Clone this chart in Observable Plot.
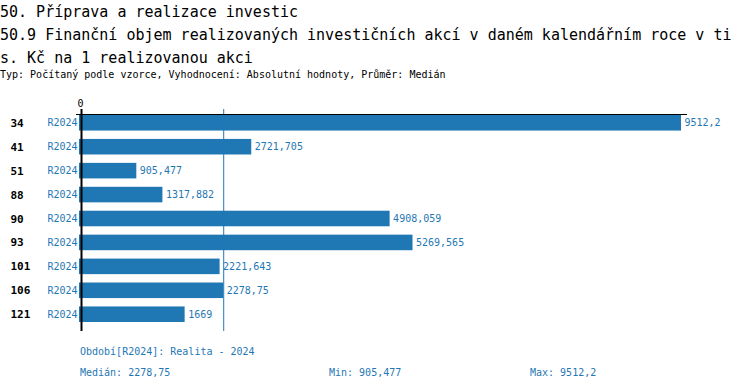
<!DOCTYPE html>
<html>
<head>
<meta charset="utf-8">
<script src="https://cdn.jsdelivr.net/npm/d3@7"></script>
<script src="https://cdn.jsdelivr.net/npm/@observablehq/plot@0.6"></script>
<style>
  html, body { margin: 0; padding: 0; background: #fff; }
  #wrap { position: relative; width: 750px; height: 390px; overflow: hidden; font-family: "DejaVu Sans Mono", "Liberation Mono", monospace; }
  .t { position: absolute; left: 0; white-space: pre; color: #000; }
  .big { font-size: 15px; height: 23px; line-height: 23px; }
  .small { font-size: 10px; height: 14px; line-height: 14px; }
  .foot { position: absolute; white-space: pre; font-size: 10px; line-height: 14px; color: #1f77b4; }
  #chart { position: absolute; left: 0; top: 95px; }
</style>
</head>
<body>
<div id="wrap">
  <div class="t big" style="top:1px">50. Příprava a realizace investic</div>
  <div class="t big" style="top:24px">50.9 Finanční objem realizovaných investičních akcí v daném kalendářním roce v ti</div>
  <div class="t big" style="top:47px">s. Kč na 1 realizovanou akci</div>
  <div class="t small" style="top:68px">Typ: Počítaný podle vzorce, Vyhodnocení: Absolutní hodnoty, Průměr: Medián</div>
  <div id="chart"></div>
  <div class="foot" id="f1" style="left:80px; top:345px"></div>
  <div class="foot" id="f2" style="left:80px; top:366px"></div>
  <div class="foot" id="f3" style="left:329px; top:366px"></div>
  <div class="foot" id="f4" style="left:530px; top:366px"></div>
</div>
<script>
const categories = ["34", "41", "51", "88", "90", "93", "101", "106", "121"];
const values = [9512.2, 2721.705, 905.477, 1317.882, 4908.059, 5269.565, 2221.643, 2278.75, 1669];
const period = "R2024";
const periodLabel = "Realita - 2024";
const xTicks = [0];

const data = categories.map((c, i) => ({cat: c, value: values[i], period}));
const fmt = v => String(v).replace(".", ",");
const median = d3.median(values);
const blue = "#1f77b4";
const mono = "DejaVu Sans Mono, Liberation Mono, monospace";

const chart = Plot.plot({
  width: 750,
  height: 245,
  marginTop: 19,
  marginBottom: 9,
  marginLeft: 79,
  marginRight: 69,
  style: {fontFamily: mono, fontSize: "10px", background: "transparent"},
  x: {domain: [0, d3.max(values)], axis: null},
  y: {domain: categories, range: [20, 227], paddingInner: 0.35, paddingOuter: 0, round: false, axis: null},
  marks: [
    Plot.barX(data, {x: "value", y: "cat", fill: blue}),
    Plot.ruleX([median], {stroke: blue, strokeWidth: 1, insetTop: -5}),
    Plot.frame({anchor: "top", stroke: "#000", insetLeft: -3, insetRight: -5}),
    Plot.ruleX([0], {stroke: "#000", strokeWidth: 2, dx: 2, insetTop: -5}),
    Plot.axisX(xTicks, {anchor: "top", label: null, tickSize: 0, tickPadding: 8, fontSize: 10, fill: "#000", dx: 1, tickFormat: d => fmt(d)}),
    Plot.text(data, {x: "value", y: "cat", text: d => fmt(d.value), textAnchor: "start", dx: 3, fill: blue, fontSize: 10}),
    Plot.text(data, {y: "cat", text: "cat", frameAnchor: "left", textAnchor: "start", dx: -69, fill: "#000", fontSize: 11, fontWeight: "bold"}),
    Plot.text(data, {y: "cat", text: "period", frameAnchor: "left", textAnchor: "end", dx: -2, fill: blue, fontSize: 10})
  ]
});
document.getElementById("chart").appendChild(chart);
document.getElementById("f1").textContent = `Období[${period}]: ${periodLabel}`;
document.getElementById("f2").textContent = `Medián: ${fmt(median)}`;
document.getElementById("f3").textContent = `Min: ${fmt(d3.min(values))}`;
document.getElementById("f4").textContent = `Max: ${fmt(d3.max(values))}`;
</script>
</body>
</html>
